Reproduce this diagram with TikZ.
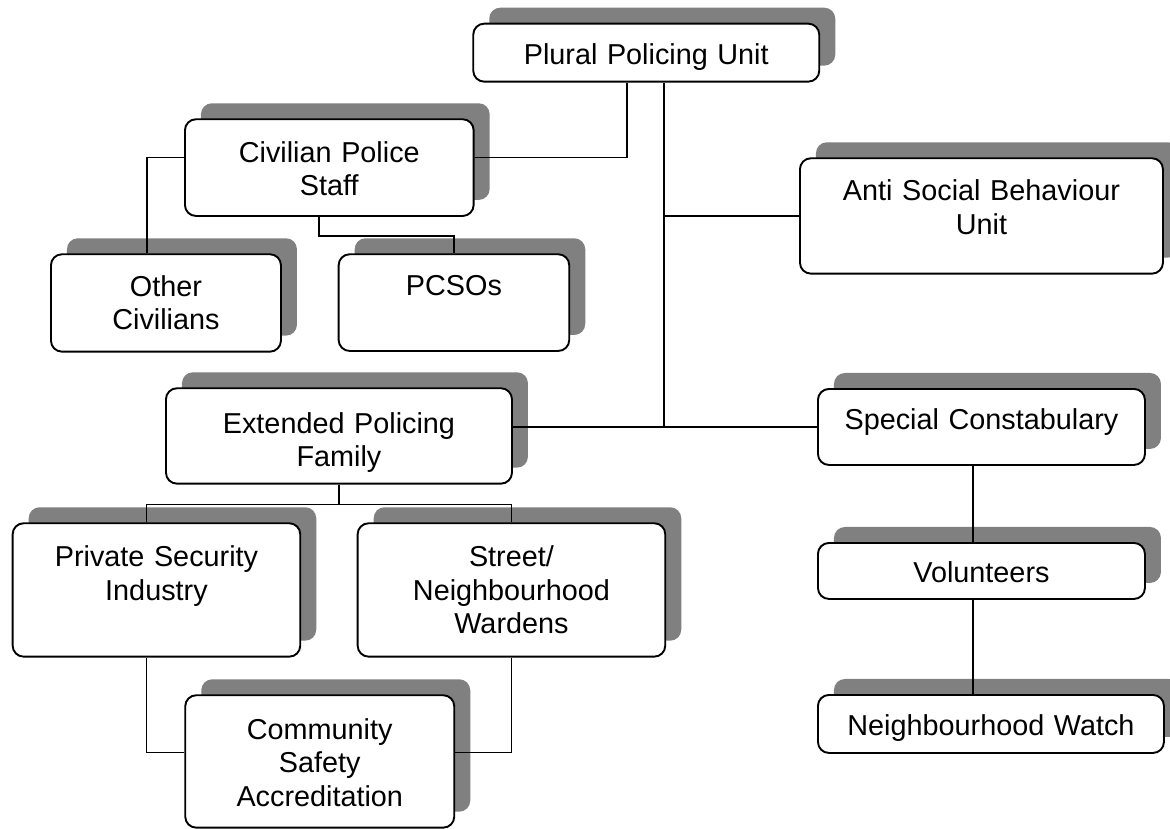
\documentclass[tikz,border=0pt]{standalone}
\usepackage{fontspec}
\setmainfont{Liberation Sans}
\usetikzlibrary{shadows}
\definecolor{shadowgray}{HTML}{808080}
\begin{document}
\begin{tikzpicture}[x=1pt,y=-1pt,
    unit/.style={draw, line width=1.9pt, fill=white, rounded corners=11pt,
        anchor=north west, inner sep=0pt, align=center,
        font=\fontsize{28.8}{33.5}\selectfont,
        drop shadow={shadow xshift=16pt, shadow yshift=16pt, opacity=1, fill=shadowgray, draw=none}},
    link/.style={line width=1.7pt}]
    \useasboundingbox (0,0) rectangle (1170,828);

    \node[unit, text width=346pt, text height=40.6pt, text depth=17.4pt] (plural) at (472.3,22.7) {Plural Policing Unit};
    \node[unit, text width=288.7pt, text height=43pt, text depth=53.7pt] (civ) at (184,118.3) {Civilian Police\\Staff};
    \node[unit, text width=230pt, text height=42pt, text depth=55.4pt] (other) at (50,253.3) {Other\\Civilians};
    \node[unit, text width=230.6pt, text height=41pt, text depth=55.7pt] (pcso) at (337.7,253.3) {PCSOs};
    \node[unit, text width=363pt, text height=42.7pt, text depth=72.7pt] (anti) at (799,157.3) {Anti Social Behaviour\\Unit};
    \node[unit, text width=346pt, text height=45pt, text depth=50.4pt] (ext) at (165,387.3) {Extended Policing\\Family};
    \node[unit, text width=327pt, text height=40.3pt, text depth=35.7pt] (special) at (817,388) {Special Constabulary};
    \node[unit, text width=287.6pt, text height=43.7pt, text depth=89.7pt] (private) at (11.7,522.3) {Private Security\\Industry};
    \node[unit, text width=307.6pt, text height=43.7pt, text depth=89.7pt] (street) at (356.7,522.3) {Street/\\Neighbourhood\\Wardens};
    \node[unit, text width=269pt, text height=44pt, text depth=88.4pt] (community) at (184.3,694.3) {Community\\Safety\\Accreditation};
    \node[unit, text width=327pt, text height=39.7pt, text depth=16.3pt] (volunteers) at (817,542) {Volunteers};
    \node[unit, text width=346pt, text height=41pt, text depth=17pt] (watch) at (817,694) {Neighbourhood Watch};

    \coordinate (trunk) at ([xshift=18pt]plural.south);
    \coordinate (spine) at ([xshift=-8.5pt]special.south);
    \draw[link] ([yshift=10pt]civ.east) -| ([xshift=-19.3pt]plural.south);
    \draw[link] (trunk) -- (trunk |- special.west);
    \draw[link] (trunk |- anti.west) -- (anti.west);
    \draw[link] (ext.east |- special.west) -- (special.west);
    \draw[link] ([yshift=10pt]civ.west) -| ([xshift=-19.3pt]other.north);
    \draw[link] ([xshift=-10pt]civ.south) -- ++(0,19) -| (pcso.north);
    \draw[link] (ext.south) -- ++(0,20) coordinate (split);
    \draw[link] ([xshift=-10pt]private.north) |- (split) -| (street.north);
    \draw[link] ([xshift=-10pt]private.south) |- ([yshift=9pt]community.west);
    \draw[link] (street.south) |- ([yshift=9pt]community.east);
    \draw[link] (spine) -- (spine |- volunteers.north);
    \draw[link] (spine |- volunteers.south) -- (spine |- watch.north);
\end{tikzpicture}
\end{document}
